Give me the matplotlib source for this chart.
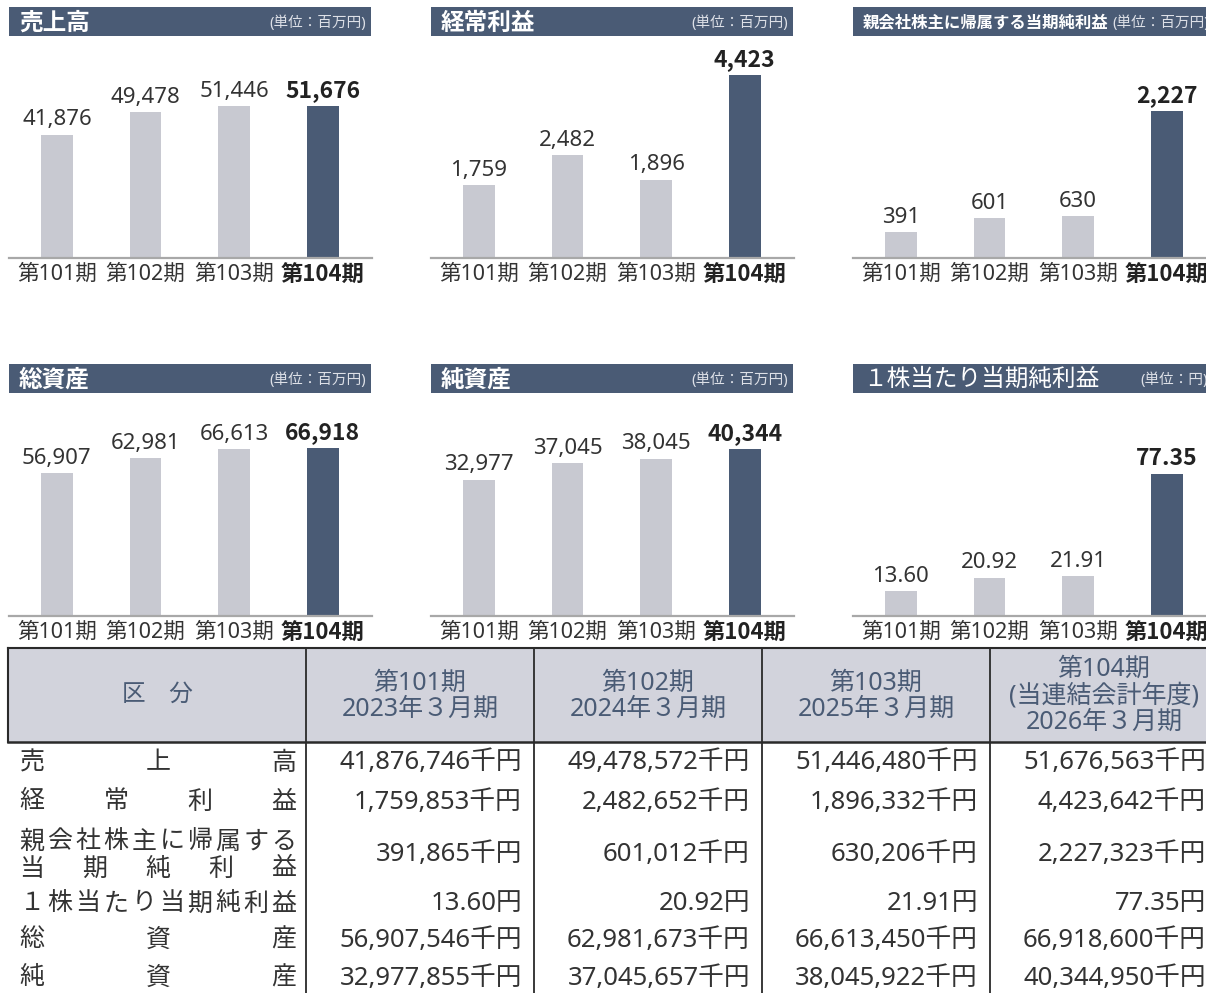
import matplotlib
matplotlib.use("Agg")
import matplotlib.pyplot as plt
from matplotlib.patches import Rectangle
import numpy as np

# chiffres en Noto Sans, kanji en Noto Sans CJK JP
plt.rcParams['font.family'] = ['Noto Sans', 'Noto Sans CJK JP', 'DejaVu Sans']
BOLD_FAMILY = ['Noto Sans CJK JP', 'DejaVu Sans']

# --- données des graphiques ---
PERIODS = ["第101期", "第102期", "第103期", "第104期"]
SALES = [41876, 49478, 51446, 51676]
ORDINARY = [1759, 2482, 1896, 4423]
NET_INCOME = [391, 601, 630, 2227]
TOTAL_ASSETS = [56907, 62981, 66613, 66918]
NET_ASSETS = [32977, 37045, 38045, 40344]
EPS = [13.60, 20.92, 21.91, 77.35]

CHART_TITLES = ["売上高", "経常利益", "親会社株主に帰属する当期純利益",
                "総資産", "純資産", "１株当たり当期純利益"]
CHART_UNITS = ["(単位：百万円)", "(単位：百万円)", "(単位：百万円)",
               "(単位：百万円)", "(単位：百万円)", "(単位：円)"]

# --- données du tableau ---
COL_HEADERS = ["第101期\n2023年３月期", "第102期\n2024年３月期",
               "第103期\n2025年３月期", "第104期\n(当連結会計年度)\n2026年３月期"]
ROW_LABELS = [["売上高"], ["経常利益"], ["親会社株主に帰属する", "当期純利益"],
              ["１株当たり当期純利益"], ["総資産"], ["純資産"]]
SALES_K = [41876746, 49478572, 51446480, 51676563]
ORDINARY_K = [1759853, 2482652, 1896332, 4423642]
NET_INCOME_K = [391865, 601012, 630206, 2227323]
TOTAL_ASSETS_K = [56907546, 62981673, 66613450, 66918600]
NET_ASSETS_K = [32977855, 37045657, 38045922, 40344950]

DARK = "#4a5b75"
GRAY = "#c8c9d1"
TXT = "#333333"

W, H = 1206, 993
fig = plt.figure(figsize=(W / 100, H / 100), dpi=100)

# calque en pixels pour bandeaux et tableau
lay = fig.add_axes([0, 0, 1, 1])
lay.set_xlim(0, W)
lay.set_ylim(H, 0)
lay.axis("off")


def px_axes(x0, y0, w, h):
    return fig.add_axes([x0 / W, 1 - (y0 + h) / H, w / W, h / H])


charts = [
    (SALES, 74000, "{:,.0f}"),
    (ORDINARY, 5270, "{:,.0f}"),
    (NET_INCOME, 3300, "{:,.0f}"),
    (TOTAL_ASSETS, 86800, "{:,.0f}"),
    (NET_ASSETS, 52700, "{:,.0f}"),
    (EPS, 118.7, "{:.2f}"),
]
col_x = [9, 431, 853]
head_y = [7, 364]
base_y = [258, 616]
pw = 363

for k, (vals, ymax, fmt) in enumerate(charts):
    r, c = divmod(k, 3)
    x0 = col_x[c]
    # bandeau titre
    lay.add_patch(Rectangle((x0, head_y[r]), pw - 1, 29, color=DARK, lw=0))
    small = len(CHART_TITLES[k]) > 12
    lay.text(x0 + 10, head_y[r] + 15.5, CHART_TITLES[k], color="white",
             fontsize=11.8 if small else 17, family=BOLD_FAMILY,
             fontweight="normal" if k == 5 else "bold", va="center")
    if small:
        ux, uha = x0 + 259, "left"
    elif k == 5:
        ux, uha = x0 + 287, "left"
    else:
        ux, uha = x0 + pw - 6, "right"
    lay.text(ux, head_y[r] + 16, CHART_UNITS[k], color="#dde0e7", fontsize=10.5,
             va="center", ha=uha)

    ax = px_axes(x0, base_y[r] - 218, pw, 218)
    x = np.arange(len(PERIODS))
    cols = [GRAY] * 3 + [DARK]
    ax.bar(x, vals, width=0.36, color=cols)
    ax.set_xlim(-0.54, 3.555)
    ax.set_ylim(0, ymax)
    for s in ["top", "left", "right"]:
        ax.spines[s].set_visible(False)
    ax.spines["bottom"].set_color("#a8a8a8")
    ax.spines["bottom"].set_linewidth(1.6)
    ax.set_yticks([])
    ax.set_xticks(x)
    ax.set_xticklabels(PERIODS, fontsize=15.5, color=TXT)
    ax.tick_params(axis="x", length=0, pad=4)
    lbl = ax.get_xticklabels()[-1]
    lbl.set_fontweight("bold")
    lbl.set_family(BOLD_FAMILY)
    lbl.set_fontsize(16)
    lbl.set_color("#222222")
    for i, v in enumerate(vals):
        last = i == len(vals) - 1
        if last:
            ax.annotate(fmt.format(v), (i, v), xytext=(0, 3), textcoords="offset points",
                        ha="center", va="bottom", fontsize=16.5, family=BOLD_FAMILY,
                        fontweight="bold", color="#222222")
        else:
            ax.annotate(fmt.format(v), (i, v), xytext=(0, 3), textcoords="offset points",
                        ha="center", va="bottom", fontsize=16, color=TXT)

# --- tableau ---
t_top, t_head, t_left = 648, 742, 8
col_edges = [t_left, 306, 534, 762, 990, 1218]
row_y = [763, 802, 855, 904, 940, 978]
HEAD_FILL = "#d2d3dc"
LINE = "#2a2a2a"

lay.add_patch(Rectangle((t_left, t_top), col_edges[-1] - t_left, t_head - t_top,
                        facecolor=HEAD_FILL, lw=0))
lay.plot([t_left, W], [t_top, t_top], color=LINE, lw=1.5)
lay.plot([t_left, W], [t_head, t_head], color=LINE, lw=1.8)
lay.plot([t_left, t_left], [t_top, t_head], color=LINE, lw=1.5)
for xe in col_edges[1:-1]:
    lay.plot([xe, xe], [t_top, H], color=LINE, lw=1.3)

head_mid = (t_top + t_head) / 2
lay.text((col_edges[0] + col_edges[1]) / 2, head_mid, "区　分", color=DARK,
         fontsize=17, ha="center", va="center")
for j, h in enumerate(COL_HEADERS):
    lay.text((col_edges[j + 1] + col_edges[j + 2]) / 2, head_mid + 1, h, color=DARK,
             fontsize=18, ha="center", va="center", linespacing=1.05)


def spread(label, y, left=32, right=284):
    n = len(label)
    xs = np.linspace(left, right, n) if n > 1 else [left]
    for ch, xx in zip(label, xs):
        lay.text(xx, y, ch, color=TXT, fontsize=18, ha="center", va="center")


for r, lab in enumerate(ROW_LABELS):
    if len(lab) == 1:
        spread(lab[0], row_y[r])
    else:
        spread(lab[0], row_y[r] - 13)
        spread(lab[1], row_y[r] + 14)

table_rows = [
    ["{:,}千円".format(v) for v in SALES_K],
    ["{:,}千円".format(v) for v in ORDINARY_K],
    ["{:,}千円".format(v) for v in NET_INCOME_K],
    ["{:.2f}円".format(v) for v in EPS],
    ["{:,}千円".format(v) for v in TOTAL_ASSETS_K],
    ["{:,}千円".format(v) for v in NET_ASSETS_K],
]
for r, cells in enumerate(table_rows):
    for j, cell in enumerate(cells):
        lay.text(col_edges[j + 2] - 12, row_y[r], cell, color=TXT, fontsize=18.5,
                 ha="right", va="center")

fig.savefig("out.png", dpi=100)
